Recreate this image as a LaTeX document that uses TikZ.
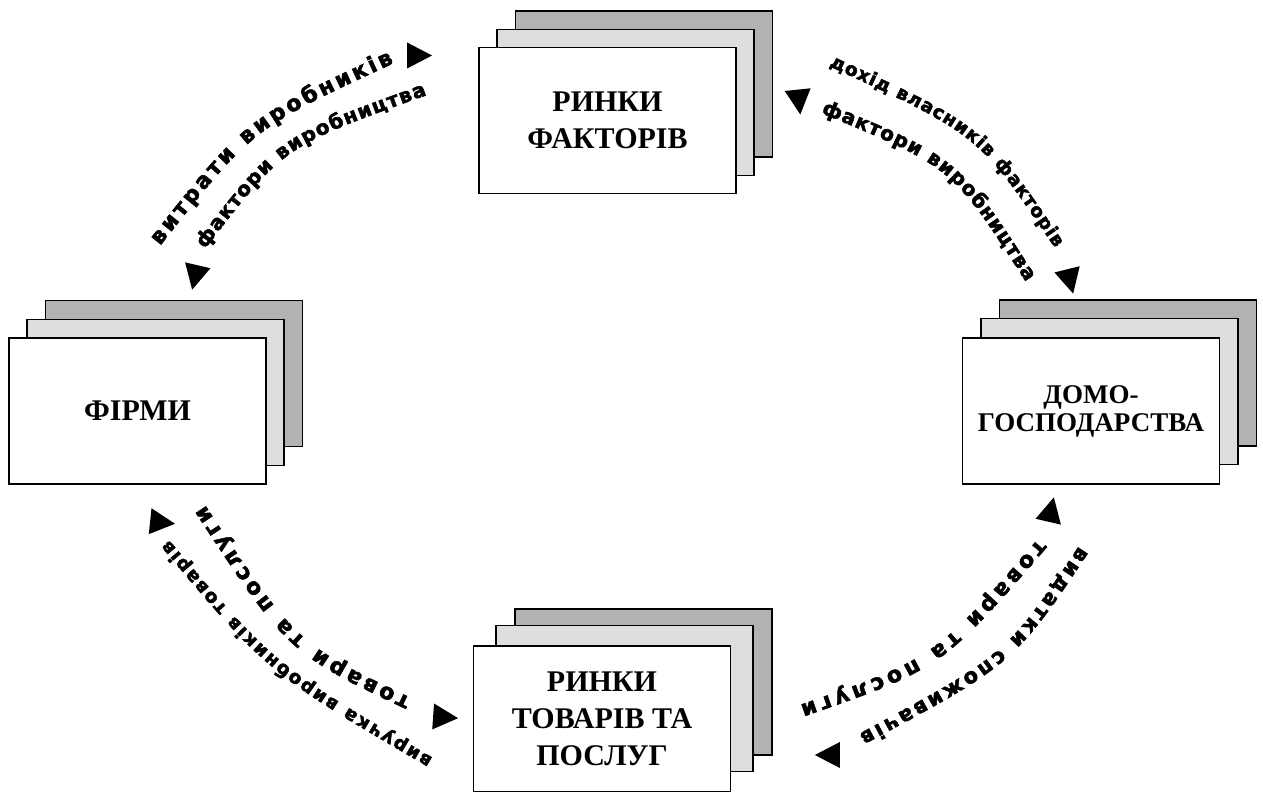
\documentclass[tikz,border=0pt]{standalone}
\usepackage{fontspec}
\setmainfont{Liberation Serif}
\newfontfamily\arcfont{DejaVu Sans}[BoldFeatures={FakeBold=2.5}]
\usetikzlibrary{shapes.geometric,decorations.text}

\definecolor{sheetdark}{gray}{0.70}
\definecolor{sheetlight}{gray}{0.87}

\tikzset{
  sheet/.style={draw=black, line width=1.7pt, minimum width=257pt, minimum height=146pt, inner sep=0pt},
  backsheet/.style={sheet, fill=sheetdark},
  midsheet/.style={sheet, fill=sheetlight},
  frontsheet/.style={sheet, fill=white, align=center, font=\bfseries\fontsize{30}{37}\selectfont},
  flowtip/.style={isosceles triangle, isosceles triangle stretches, fill=black, inner sep=0pt,
    minimum width=26pt, minimum height=25pt},
  arctext/.style 2 args={decorate, decoration={text along path, text align={fit to path},
    text={|\arcfont\bfseries\fontsize{#1}{#1}\selectfont|#2}}}
}

\begin{document}
\begin{tikzpicture}[x=1pt, y=-1pt]
  \useasboundingbox (0,0) rectangle (1263,792);

  % the four markets / sectors
  \node[backsheet] (factors3) at (644,84) {};
  \node[midsheet] (factors2) at (625.5,102.5) {};
  \node[frontsheet] (factors) at (607.5,120.5) {РИНКИ\\ФАКТОРІВ};

  \node[backsheet] (firms3) at (174,373.5) {};
  \node[midsheet] (firms2) at (155.5,392.5) {};
  \node[frontsheet] (firms) at (137.5,411) {ФІРМИ};

  \node[backsheet] (homes3) at (1128,373) {};
  \node[midsheet] (homes2) at (1109.5,391.5) {};
  \node[frontsheet, font=\bfseries\fontsize{27}{28}\selectfont] (homes) at (1091,411) {ДОМО-\\ГОСПОДАРСТВА};

  \node[backsheet] (goods3) at (643.5,682) {};
  \node[midsheet] (goods2) at (624.5,698.5) {};
  \node[frontsheet] (goods) at (602,719) {РИНКИ\\ТОВАРІВ ТА\\ПОСЛУГ};

  % firms -> factor markets
  \coordinate (costsA) at (160,246);   \coordinate (costsB) at (394,63);
  \coordinate (inputsA) at (205,249);  \coordinate (inputsB) at (427,95);
  \path[arctext={22}{витрати виробників}] (costsA) .. controls (252.3,128.5) .. (costsB);
  \path[arctext={20}{фактори виробництва}] (inputsA) .. controls (283.6,146.3) .. (inputsB);

  % factor markets -> households
  \coordinate (incomeA) at (829,66);   \coordinate (incomeB) at (1055,248);
  \coordinate (supplyA) at (821,113);  \coordinate (supplyB) at (1026,282);
  \path[arctext={18.5}{дохід власників факторів}] (incomeA) .. controls (978,134.3) .. (incomeB);
  \path[arctext={20}{фактори виробництва}] (supplyA) .. controls (952.2,167) .. (supplyB);

  % households -> goods markets
  \coordinate (boughtA) at (1038,539); \coordinate (boughtB) at (800,705);
  \coordinate (spendA) at (1079,546);  \coordinate (spendB) at (859,734);
  \path[arctext={22}{товари та послуги}] (boughtA) .. controls (935,658) .. (boughtB);
  \path[arctext={21}{видатки споживачів}] (spendA) .. controls (1006.3,654.7) .. (spendB);

  % goods markets -> firms
  \coordinate (soldA) at (411,698);    \coordinate (soldB) at (205,505);
  \coordinate (revenueA) at (433,758); \coordinate (revenueB) at (169,540);
  \path[arctext={22}{товари та послуги}] (soldA) .. controls (296,643.5) .. (soldB);
  \path[arctext={18.5}{виручка виробників товарів}] (revenueA) .. controls (274.3,665) .. (revenueB);

  % arrow heads
  \node[flowtip] (tip1) at (415,55.5) {};
  \node[flowtip, rotate=-84] (tip2) at (798.5,97.5) {};
  \node[flowtip, rotate=-76] (tip3) at (1069,277) {};
  \node[flowtip, rotate=77] (tip4) at (1050,514) {};
  \node[flowtip, rotate=180] (tip5) at (832,755) {};
  \node[flowtip, rotate=-4] (tip6) at (441,717) {};
  \node[flowtip, rotate=-6] (tip7) at (158,522) {};
  \node[flowtip, rotate=-103] (tip8) at (196,273) {};
\end{tikzpicture}
\end{document}
